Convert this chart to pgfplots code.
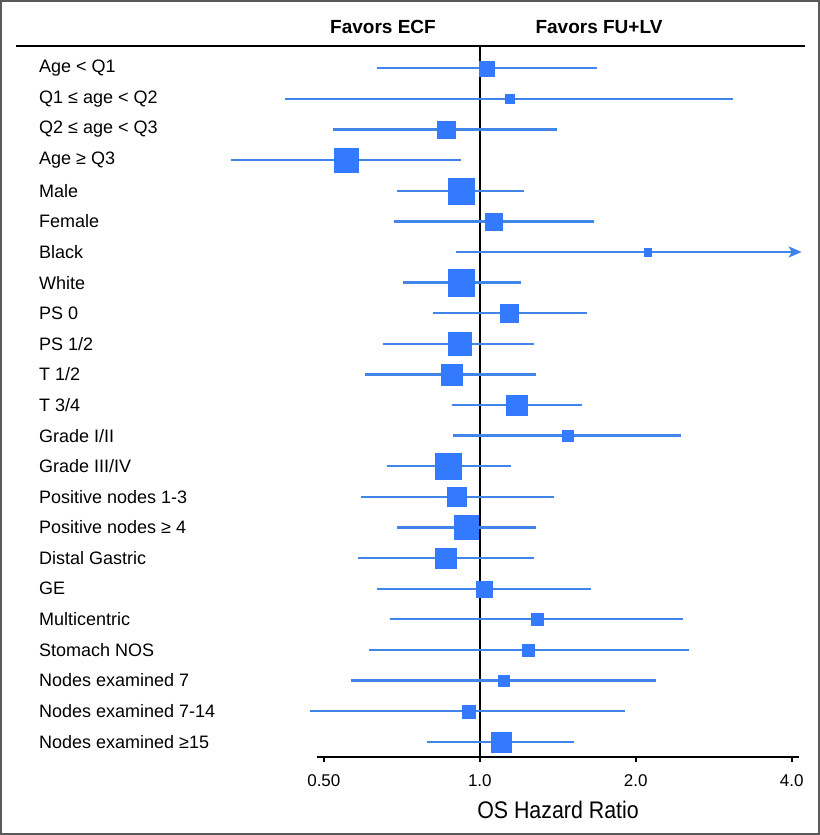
\documentclass[border=0pt]{standalone}
\usepackage{fontspec}
\setmainfont{Liberation Sans}
\usepackage{pgfplots}
\pgfplotsset{compat=1.18}
\usepackage{pgfplotstable}
\usetikzlibrary{arrows.meta}
\definecolor{sqblue}{RGB}{51,122,255}
\definecolor{ciblue}{RGB}{66,133,234}

% y hr size(px side)
\pgfplotstableread{
y  hr    s
23 1.029 15
22 1.140 9
21 0.861 18
20 0.551 24
19 0.920 26
18 1.061 17
17 2.107 8
16 0.920 27
15 1.140 18
14 0.912 23
13 0.882 21
12 1.179 21
11 1.479 11
10 0.870 26
9  0.900 19
8  0.941 24
7  0.860 21
6  1.017 16
5  1.289 11.5
4  1.239 12
3  1.111 11.5
2  0.950 13
1  1.100 20
}\forestdata

\begin{document}
\begin{tikzpicture}
\useasboundingbox (-317bp,-78.3bp) rectangle (503bp,756.7bp);
\begin{axis}[
  at={(0,0)}, anchor=south west,
  scale only axis, width=482bp, height=711bp,
  xmode=log, log basis x=2,
  xmin=0.485, xmax=4.13, ymin=0.51, ymax=23.74,
  clip=false,
  axis x line=bottom, axis y line=left,
  x axis line style={-, line width=2bp, black},
  y axis line style={draw=none},
  ytick style={draw=none},
  xtick style={line width=1.5bp, black},
  tick align=outside, major tick length=5bp,
  xtick={0.5,1,2,4}, xticklabels={0.50,1.0,2.0,4.0},
  xticklabel style={font=\fontsize{17bp}{20bp}\selectfont, yshift=-9bp},
  ytick={1,...,23},
  yticklabels={Nodes examined ≥15, Nodes examined 7-14, Nodes examined 7, Stomach NOS, Multicentric, GE, Distal Gastric, Positive nodes ≥ 4, Positive nodes 1-3, Grade III/IV, Grade I/II, T 3/4, T 1/2, PS 1/2, PS 0, White, Black, Female, Male, Age ≥ Q3, Q2 ≤ age < Q3, Q1 ≤ age < Q2, Age < Q1},
  yticklabel style={anchor=west, inner sep=0pt, xshift=-273bp, font=\fontsize{18bp}{21bp}\selectfont},
  xlabel={\scalebox{0.89}[1]{OS Hazard Ratio}},
  xlabel style={at={(axis description cs:0.5,0)}, anchor=center, yshift=-53bp, font=\fontsize{24bp}{28bp}\selectfont},
  ci/.style={ciblue, line width=2.3bp, mark=none},
]
\draw[line width=1.8bp, black] (axis cs:1,0.51) -- (axis cs:1,23.74);
\addplot[ci] coordinates {(0.632,23) (1.680,23)};
\addplot[ci] coordinates {(0.421,22) (3.080,22)};
\addplot[ci] coordinates {(0.520,21) (1.410,21)};
\addplot[ci] coordinates {(0.331,20) (0.918,20)};
\addplot[ci] coordinates {(0.691,19) (1.218,19)};
\addplot[ci] coordinates {(0.682,18) (1.658,18)};
\addplot[ci, -{Stealth[length=13bp, width=11bp, inset=3bp]}] coordinates {(0.900,17) (4.180,17)};
\addplot[ci] coordinates {(0.711,16) (1.200,16)};
\addplot[ci] coordinates {(0.811,15) (1.610,15)};
\addplot[ci] coordinates {(0.651,14) (1.271,14)};
\addplot[ci] coordinates {(0.600,13) (1.286,13)};
\addplot[ci] coordinates {(0.882,12) (1.578,12)};
\addplot[ci] coordinates {(0.889,11) (2.443,11)};
\addplot[ci] coordinates {(0.661,10) (1.150,10)};
\addplot[ci] coordinates {(0.590,9) (1.389,9)};
\addplot[ci] coordinates {(0.691,8) (1.282,8)};
\addplot[ci] coordinates {(0.582,7) (1.271,7)};
\addplot[ci] coordinates {(0.632,6) (1.638,6)};
\addplot[ci] coordinates {(0.671,5) (2.464,5)};
\addplot[ci] coordinates {(0.610,4) (2.536,4)};
\addplot[ci] coordinates {(0.563,3) (2.187,3)};
\addplot[ci] coordinates {(0.470,2) (1.903,2)};
\addplot[ci] coordinates {(0.791,1) (1.517,1)};
\addplot[only marks, mark=square*, scatter,
  mark options={draw=sqblue, fill=sqblue, line width=0.1bp},
  scatter/use mapped color={draw=sqblue, fill=sqblue},
  visualization depends on={\thisrow{s}/2 \as \msz},
  scatter/@pre marker code/.append style={/tikz/mark size=\msz}]
  table[x=hr, y=y] {\forestdata};
\end{axis}
\draw[line width=2bp, black] (-301.3bp,711bp) -- (488bp,711bp);
\node[font=\bfseries\fontsize{19bp}{22bp}\selectfont] at (66bp,730bp) {Favors ECF};
\node[font=\bfseries\fontsize{19bp}{22bp}\selectfont] at (282bp,730bp) {Favors FU+LV};
\draw[line width=2bp, black!65] (-316bp,-77.3bp) rectangle (502bp,755.7bp);
\end{tikzpicture}
\end{document}
